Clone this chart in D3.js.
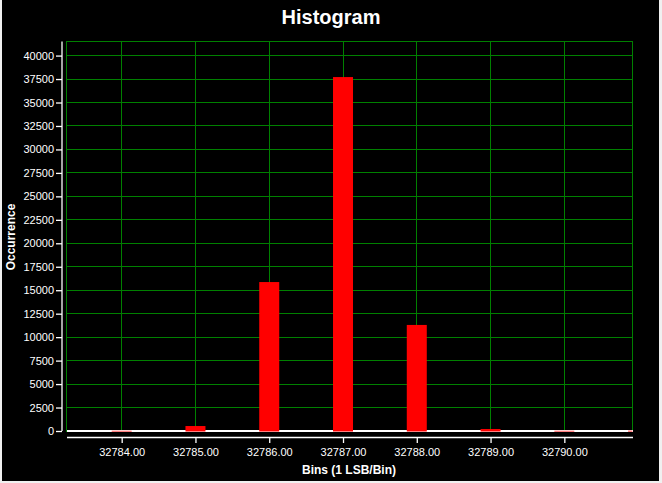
<!DOCTYPE html>
<html><head><meta charset="utf-8">
<script src="https://cdn.jsdelivr.net/npm/d3@7"></script>
<style>
html,body{margin:0;padding:0;background:#f0f0f0;}
svg{display:block;font-family:"Liberation Sans",Arial,sans-serif;}
</style></head>
<body>
<svg id="c" width="662" height="483"></svg>
<script>
const bins = [32784, 32785, 32786, 32787, 32788, 32789, 32790, 32791];
const counts = [20, 530, 15870, 37710, 11300, 210, 20, 30];
const xTicks = [32784, 32785, 32786, 32787, 32788, 32789, 32790];
const yTicks = [0,2500,5000,7500,10000,12500,15000,17500,20000,22500,25000,27500,30000,32500,35000,37500,40000];

const svg = d3.select("#c");
svg.append("rect").attr("x",2).attr("y",0).attr("width",657).attr("height",481).attr("fill","#000");

const L = 66.5, R = 632.5, T = 41.5, B = 431;
const x = d3.scaleLinear().domain([32783.252, 32790.924]).range([L, R]);
const y = d3.scaleLinear().domain([0, 41500]).range([B, T]);

svg.append("defs").append("clipPath").attr("id","clip")
  .append("rect").attr("x",L).attr("y",T).attr("width",R-L).attr("height",B-T+1);

const green = "#008000";
const grid = svg.append("g").attr("shape-rendering","crispEdges");
grid.selectAll(".hg").data(yTicks).join("line")
  .attr("x1",L).attr("x2",R).attr("y1",d=>y(d)).attr("y2",d=>y(d))
  .attr("stroke",green).attr("stroke-width",1);
grid.selectAll(".vg").data(xTicks).join("line")
  .attr("x1",d=>x(d)).attr("x2",d=>x(d)).attr("y1",T).attr("y2",B)
  .attr("stroke",green).attr("stroke-width",1);
grid.append("rect").attr("x",L).attr("y",T).attr("width",R-L).attr("height",B-T)
  .attr("fill","none").attr("stroke",green).attr("stroke-width",1);
grid.append("line").attr("x1",L).attr("x2",R).attr("y1",B).attr("y2",B)
  .attr("stroke","#fff").attr("stroke-width",1.5);

const hw = 10 / (x(32785) - x(32784));
svg.append("g").attr("clip-path","url(#clip)").selectAll("rect").data(bins).join("rect")
  .attr("x", d => x(d - hw))
  .attr("width", d => x(d + hw) - x(d - hw))
  .attr("y", (d,i) => y(counts[i]))
  .attr("height", (d,i) => B - y(counts[i]) + 0.5)
  .attr("fill", "#ff0000");

const yAxis = svg.append("g").attr("transform","translate(62,0)")
  .call(d3.axisLeft(y).tickValues(yTicks).tickFormat(d3.format("d")).tickSize(6).tickSizeOuter(0).tickPadding(2));
const xAxis = svg.append("g").attr("transform","translate(0,437)")
  .call(d3.axisBottom(x).tickValues(xTicks).tickFormat(d3.format(".2f")).tickSize(6).tickSizeOuter(0).tickPadding(5));
[yAxis, xAxis].forEach(a => {
  a.selectAll("path,line").attr("stroke","#fff").attr("stroke-width",1.3);
  a.selectAll("text").attr("fill","#fff").attr("font-size","11px").attr("font-family","Liberation Sans, Arial, sans-serif");
});
yAxis.select(".domain").attr("d", `M0,${T}V${B}`);

svg.append("text").attr("x",331).attr("y",24).attr("text-anchor","middle")
  .attr("font-size","20px").attr("font-weight","bold").attr("fill","#fff").text("Histogram");
svg.append("text").attr("x",349).attr("y",474).attr("text-anchor","middle")
  .attr("font-size","12px").attr("font-weight","bold").attr("fill","#fff").text("Bins (1 LSB/Bin)");
svg.append("text").attr("transform","translate(15,237) rotate(-90)").attr("text-anchor","middle")
  .attr("font-size","12px").attr("font-weight","bold").attr("fill","#fff").text("Occurrence");
</script>
</body></html>
